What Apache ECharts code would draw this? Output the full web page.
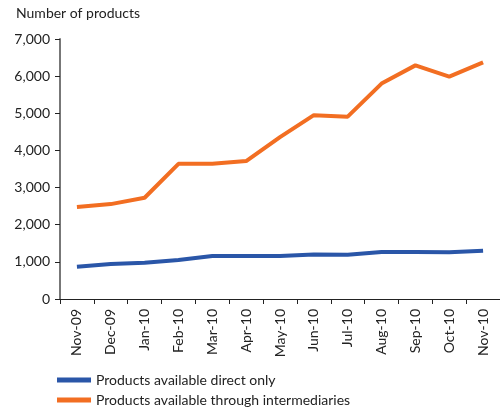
<!DOCTYPE html>
<html>
<head>
<meta charset="utf-8">
<script src="https://cdn.jsdelivr.net/npm/echarts@6/dist/echarts.min.js"></script>
<style>
  html, body { margin: 0; padding: 0; background: #fff; }
  #chart { width: 500px; height: 411px; }
</style>
</head>
<body>
<div id="chart"></div>
<script>
// Monthly product counts, Nov 2009 – Nov 2010
var months = ['Nov-09', 'Dec-09', 'Jan-10', 'Feb-10', 'Mar-10', 'Apr-10', 'May-10',
              'Jun-10', 'Jul-10', 'Aug-10', 'Sep-10', 'Oct-10', 'Nov-10'];
var directOnly = [870, 940, 975, 1050, 1155, 1155, 1155, 1200, 1190, 1265, 1265, 1260, 1300];
var viaIntermediaries = [2480, 2555, 2725, 3640, 3640, 3715, 4360, 4950, 4910, 5800, 6290, 5985, 6370];
var yTicks = [0, 1000, 2000, 3000, 4000, 5000, 6000, 7000];

var FONT = 'Lato, "Noto Sans", sans-serif';
var BLUE = '#2a56a8';
var ORANGE = '#f26e22';
var NAME_DIRECT = 'Products available direct only';
var NAME_INTER = 'Products available through intermediaries';

function legendFor(name, top) {
  return {
    orient: 'horizontal',
    left: 57, top: top,
    itemWidth: 34, itemHeight: 5,
    icon: 'rect',
    padding: 0,
    textStyle: { fontSize: 14, color: '#222', fontFamily: FONT },
    data: [name]
  };
}

var chart = echarts.init(document.getElementById('chart'));
chart.setOption({
  animation: false,
  textStyle: { fontFamily: FONT },
  grid: { left: 60, right: -4, top: 39, bottom: 112, containLabel: false },
  graphic: [{
    type: 'text',
    left: 16, top: 6,
    style: { text: 'Number of products', fontSize: 14, fontFamily: FONT, fill: '#222' }
  }],
  legend: [legendFor(NAME_DIRECT, 373), legendFor(NAME_INTER, 393)],
  xAxis: {
    type: 'category',
    data: months,
    boundaryGap: true,
    axisLine: { lineStyle: { color: '#222', width: 1 } },
    axisTick: { show: true, inside: false, length: 5, lineStyle: { color: '#222' } },
    axisLabel: { rotate: 90, margin: 10, fontSize: 14, color: '#222', fontFamily: FONT, interval: 0 }
  },
  yAxis: {
    type: 'value',
    min: yTicks[0], max: yTicks[yTicks.length - 1], interval: 1000,
    axisLine: { show: true, lineStyle: { color: '#777', width: 2 } },
    axisTick: { show: true, length: 5, lineStyle: { color: '#222' } },
    splitLine: { show: false },
    axisLabel: {
      fontSize: 14, color: '#222', fontFamily: FONT, margin: 10,
      formatter: function (v) { return v === 0 ? '0' : v.toLocaleString('en-US'); }
    }
  },
  series: [
    {
      name: NAME_DIRECT,
      type: 'line',
      data: directOnly,
      symbol: 'none',
      lineStyle: { color: BLUE, width: 4 },
      itemStyle: { color: BLUE }
    },
    {
      name: NAME_INTER,
      type: 'line',
      data: viaIntermediaries,
      symbol: 'none',
      lineStyle: { color: ORANGE, width: 4 },
      itemStyle: { color: ORANGE }
    }
  ]
});
</script>
</body>
</html>
